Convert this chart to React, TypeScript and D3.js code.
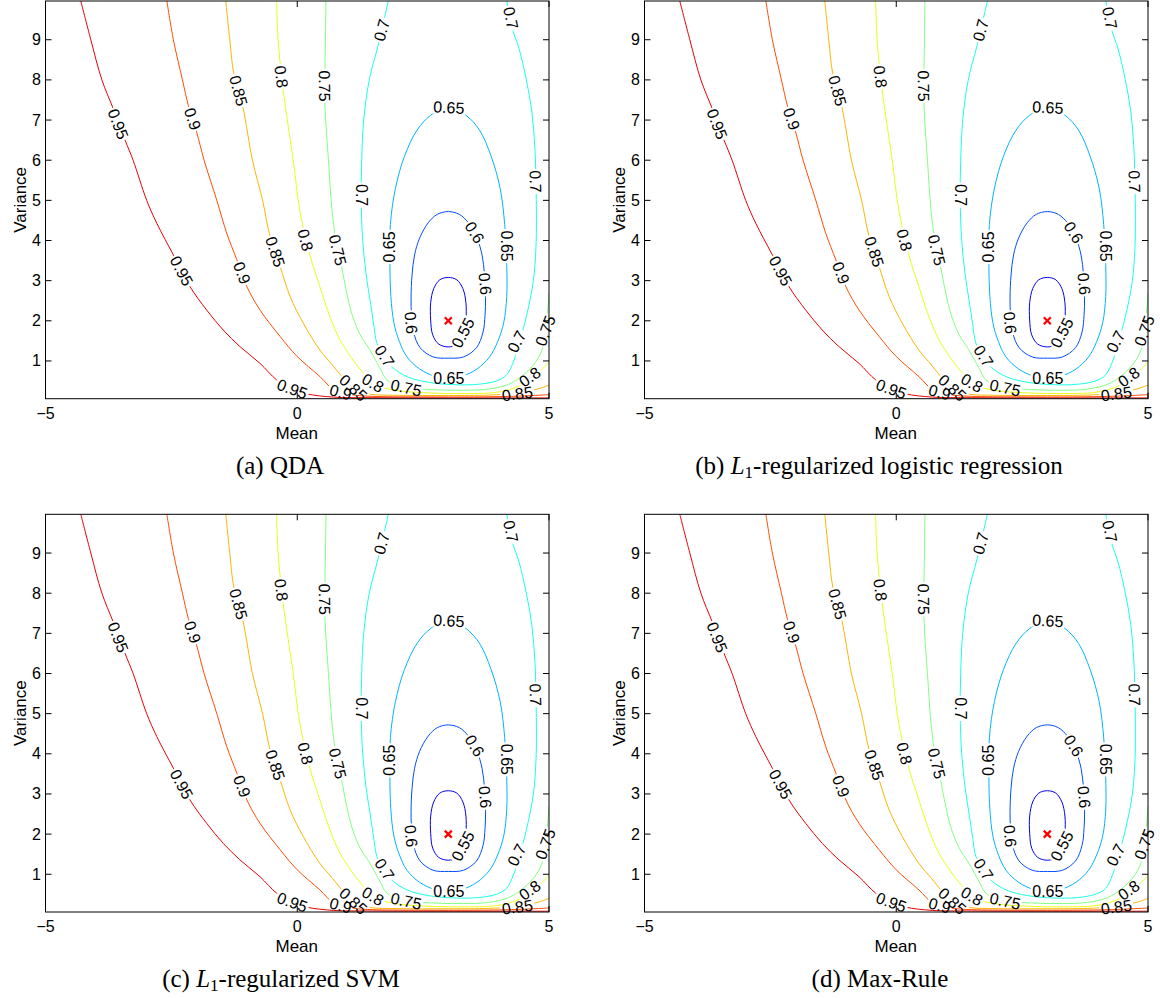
import React from 'react';
import * as d3 from 'd3';

type P = [number, number];

// contour levels (accuracy)
const levels: number[] = [0.55, 0.6, 0.65, 0.7, 0.75, 0.8, 0.85, 0.9, 0.95];

// contour lines: [mean, variance]
const contour055: P[] = [
  [3.0, 3.08], [3.17, 3.02], [3.29, 2.8], [3.35, 2.45], [3.35, 2.02], [3.31, 1.65], [3.19, 1.42],
  [3.0, 1.35], [2.81, 1.42], [2.69, 1.65], [2.65, 2.02], [2.65, 2.45], [2.71, 2.8], [2.83, 3.02],
];
const contour060: P[] = [
  [3.0, 4.72], [3.22, 4.65], [3.4, 4.44], [3.57, 4.06], [3.67, 3.64], [3.72, 3.14], [3.74, 2.57],
  [3.73, 2.14], [3.69, 1.72], [3.56, 1.33], [3.3, 1.1], [3.0, 1.07], [2.7, 1.1], [2.44, 1.33],
  [2.31, 1.72], [2.27, 2.14], [2.26, 2.57], [2.28, 3.14], [2.33, 3.64], [2.43, 4.06], [2.6, 4.44],
  [2.78, 4.65],
];
const contour065: P[] = [
  [3.0, 7.33], [3.35, 7.12], [3.62, 6.75], [3.85, 6.1], [4.03, 5.3], [4.12, 4.4], [4.16, 3.4],
  [4.16, 2.6], [4.1, 1.95], [3.98, 1.48], [3.82, 1.1], [3.57, 0.8], [3.27, 0.62], [3.0, 0.57],
  [2.73, 0.62], [2.43, 0.8], [2.18, 1.1], [2.03, 1.48], [1.92, 1.95], [1.86, 2.6], [1.84, 3.4],
  [1.85, 4.4], [1.95, 5.3], [2.13, 6.1], [2.38, 6.75], [2.65, 7.12],
];
const contour070: P[] = [
  [1.81, 9.97], [1.6, 8.83], [1.43, 8.0], [1.32, 7.0], [1.28, 6.0], [1.27, 5.0], [1.3, 4.0],
  [1.37, 3.14], [1.46, 2.4], [1.52, 1.9], [1.58, 1.45], [1.72, 1.12], [1.9, 0.83], [2.2, 0.6],
  [2.6, 0.47], [3.1, 0.41], [3.6, 0.42], [3.95, 0.5], [4.15, 0.64], [4.3, 1.0], [4.42, 1.5],
  [4.55, 2.1], [4.69, 3.0], [4.74, 3.8], [4.75, 4.5], [4.74, 5.5], [4.72, 6.3], [4.66, 7.2],
  [4.55, 8.0], [4.4, 8.8], [4.29, 9.2], [4.16, 9.97],
];
const contour075: P[] = [
  [0.57, 9.97], [0.56, 9.0], [0.55, 7.42], [0.62, 6.0], [0.7, 4.64], [0.8, 3.76], [0.88, 3.35],
  [0.97, 2.77], [1.09, 2.15], [1.25, 1.65], [1.44, 1.28], [1.64, 0.83], [1.78, 0.53], [2.0, 0.4],
  [2.3, 0.32], [2.8, 0.28], [3.3, 0.27], [3.8, 0.3], [4.2, 0.42], [4.49, 0.65], [4.75, 1.0],
  [4.88, 1.35], [4.93, 1.75], [4.97, 2.2], [5.0, 2.7],
];
const contour080: P[] = [
  [-0.41, 9.97], [-0.38, 9.0], [-0.28, 7.75], [-0.08, 6.0], [0.05, 4.76], [0.25, 3.64], [0.45, 2.85],
  [0.65, 2.1], [0.85, 1.52], [1.0, 1.22], [1.15, 0.95], [1.3, 0.72], [1.45, 0.52], [1.65, 0.36],
  [2.0, 0.26], [2.5, 0.21], [3.0, 0.19], [3.5, 0.19], [3.9, 0.21], [4.2, 0.28], [4.45, 0.4],
  [4.65, 0.58], [4.85, 0.78], [5.0, 0.97],
];
const contour085: P[] = [
  [-1.42, 9.97], [-1.34, 9.0], [-1.26, 8.15], [-1.08, 7.32], [-0.89, 6.0], [-0.69, 5.01], [-0.54, 4.1],
  [-0.34, 3.35], [-0.14, 2.6], [0.12, 1.94], [0.45, 1.27], [0.7, 0.9], [0.88, 0.62], [1.05, 0.4],
  [1.2, 0.25], [1.45, 0.17], [2.0, 0.145], [3.0, 0.14], [3.8, 0.15], [4.2, 0.18], [4.5, 0.23],
  [4.8, 0.31], [5.0, 0.4],
];
const contour090: P[] = [
  [-2.59, 9.97], [-2.46, 9.0], [-2.28, 8.0], [-2.16, 7.35], [-2.0, 6.71], [-1.85, 6.0], [-1.6, 5.01],
  [-1.4, 4.18], [-1.2, 3.52], [-1.0, 2.85], [-0.74, 2.27], [-0.34, 1.61], [0.0, 1.11], [0.45, 0.61],
  [0.72, 0.28], [0.9, 0.2], [1.2, 0.14], [1.6, 0.115], [2.5, 0.105], [3.5, 0.105], [4.3, 0.12],
  [5.0, 0.16],
];
const contour095: P[] = [
  [-4.3, 9.97], [-4.1, 9.0], [-3.88, 8.0], [-3.66, 7.3], [-3.42, 6.5], [-3.26, 6.0], [-2.99, 5.0],
  [-2.79, 4.43], [-2.46, 3.64], [-2.13, 2.85], [-1.8, 2.27], [-1.47, 1.77], [-1.14, 1.36],
  [-0.74, 0.94], [-0.41, 0.53], [-0.1, 0.3], [0.19, 0.18], [0.72, 0.1], [1.5, 0.085], [3.0, 0.08],
  [5.0, 0.08],
];

const contourSeries: P[][] = [
  contour055, contour060, contour065, contour070, contour075, contour080, contour085, contour090, contour095,
];
const closedLevels: number[] = [0.55, 0.6, 0.65];

// inline contour labels: [level, mean, variance, angle]
const contourLabels: [number, number, number, number][] = [
  [0.95, -3.56, 6.9, 69], [0.9, -2.08, 7.03, 72], [0.85, -1.17, 7.73, 75], [0.8, -0.32, 8.08, 82],
  [0.75, 0.54, 7.85, 89], [0.7, 1.68, 9.24, -75], [0.7, 4.24, 9.54, 78], [0.65, 3.01, 7.31, 3],
  [0.7, 4.73, 5.47, 88], [0.7, 1.27, 5.13, 90], [0.75, 0.8, 3.76, 76], [0.8, 0.16, 4.01, 76],
  [0.85, -0.44, 3.72, 72], [0.9, -1.1, 3.19, 69], [0.95, -2.3, 3.24, 62], [0.95, -0.1, 0.3, 20],
  [0.65, 1.84, 3.84, -90], [0.65, 4.15, 3.86, 90], [0.6, 3.52, 4.2, 58], [0.6, 3.73, 2.92, 85],
  [0.6, 2.26, 1.95, 85], [0.55, 3.29, 1.7, -62], [0.7, 1.73, 1.12, 57], [0.65, 3.01, 0.56, 0],
  [0.75, 2.16, 0.33, 12], [0.8, 1.5, 0.45, 30], [0.85, 1.11, 0.33, 42], [0.9, 0.86, 0.22, 15],
  [0.7, 4.36, 1.48, -62], [0.75, 4.93, 1.75, -70], [0.8, 4.62, 0.6, -35], [0.85, 4.37, 0.18, -8],
];

const minimumPoint: P = [3, 2];
const meanTicks: number[] = [-5, 0, 5];
const varianceTicks: number[] = [1, 2, 3, 4, 5, 6, 7, 8, 9];
const meanDomain: P = [-5, 5];
const varianceDomain: P = [0.06, 9.965];

const captionTags: string[] = ['(a)', '(b)', '(c)', '(d)'];
const captionTexts: string[] = ['QDA', '-regularized logistic regression', '-regularized SVM', 'Max-Rule'];
const captionHasL1: boolean[] = [false, true, true, false];

const SANS = 'Liberation Sans, Arial, Helvetica, sans-serif';
const SERIF = 'Liberation Serif, Times New Roman, Times, serif';

function jet(t: number): string {
  const c = (v: number) => Math.max(0, Math.min(1, v));
  const r = c(1.5 - Math.abs(4 * t - 3));
  const g = c(1.5 - Math.abs(4 * t - 2));
  const b = c(1.5 - Math.abs(4 * t - 1));
  return d3.rgb(r * 255, g * 255, b * 255).formatHex();
}
const levelColor = (lv: number) => jet((lv - 0.5) / 0.5);

function labelText(lv: number): string {
  return String(+lv.toFixed(2));
}
function labelWidth(s: string): number {
  let w = 0;
  for (const ch of s) w += ch === '.' ? 0.278 : 0.556;
  return w * 16 + 3;
}

const L = 45.5, R = 549, T = 1, B = 398.7;

function Panel({ idx, ox, oy, cx, capY }: { idx: number; ox: number; oy: number; cx: number; capY: number }) {
  const x = d3.scaleLinear().domain(meanDomain).range([L, R]);
  const y = d3.scaleLinear().domain(varianceDomain).range([B, T]);
  const openLine = d3.line<P>().x((d) => x(d[0])).y((d) => y(d[1])).curve(d3.curveCatmullRom.alpha(0.5));
  const closedLine = d3.line<P>().x((d) => x(d[0])).y((d) => y(d[1])).curve(d3.curveCatmullRomClosed.alpha(0.5));
  const id = `p${idx}`;
  return (
    <g transform={`translate(${ox},${oy})`}>
      <defs>
        <clipPath id={`clip-${id}`}>
          <rect x={L} y={T} width={R - L} height={B - T} />
        </clipPath>
        {levels.map((lv, i) => (
          <mask key={i} id={`mask-${id}-${i}`} maskUnits="userSpaceOnUse" x={-20} y={-20} width={620} height={460}>
            <rect x={-20} y={-20} width={620} height={460} fill="white" />
            {contourLabels
              .filter((l) => l[0] === lv)
              .map((l, j) => {
                const w = labelWidth(labelText(lv));
                return (
                  <rect
                    key={j}
                    transform={`translate(${x(l[1])},${y(l[2])}) rotate(${l[3]})`}
                    x={-w / 2}
                    y={-6.5}
                    width={w}
                    height={13}
                    fill="black"
                  />
                );
              })}
          </mask>
        ))}
      </defs>
      <rect x={L} y={T} width={R - L} height={B - T} fill="white" />
      <g clipPath={`url(#clip-${id})`}>
        {levels.map((lv, i) => (
          <path
            key={i}
            d={(closedLevels.includes(lv) ? closedLine : openLine)(contourSeries[i]) || ''}
            fill="none"
            stroke={levelColor(lv)}
            strokeWidth={1}
            mask={`url(#mask-${id}-${i})`}
          />
        ))}
      </g>
      {contourLabels.map((l, j) => (
        <text
          key={j}
          transform={`translate(${x(l[1])},${y(l[2])}) rotate(${l[3]})`}
          textAnchor="middle"
          dominantBaseline="central"
          fontFamily={SANS}
          fontSize={16}
          fill="#000"
        >
          {labelText(l[0])}
        </text>
      ))}
      <g stroke="#ff0000" strokeWidth={2.2}>
        <line x1={x(minimumPoint[0]) - 3.5} y1={y(minimumPoint[1]) - 3.5} x2={x(minimumPoint[0]) + 3.5} y2={y(minimumPoint[1]) + 3.5} />
        <line x1={x(minimumPoint[0]) - 3.5} y1={y(minimumPoint[1]) + 3.5} x2={x(minimumPoint[0]) + 3.5} y2={y(minimumPoint[1]) - 3.5} />
      </g>
      <rect x={L} y={T} width={R - L} height={B - T} fill="none" stroke="#000" strokeWidth={1} />
      {meanTicks.map((t) => (
        <g key={`xt${t}`}>
          <line x1={x(t)} x2={x(t)} y1={B} y2={B - 6} stroke="#000" />
          <line x1={x(t)} x2={x(t)} y1={T} y2={T + 6} stroke="#000" />
          <text x={x(t)} y={419} textAnchor="middle" fontFamily={SANS} fontSize={16} fill="#000">
            {t < 0 ? `\u2212${Math.abs(t)}` : `${t}`}
          </text>
        </g>
      ))}
      {varianceTicks.map((t) => (
        <g key={`yt${t}`}>
          <line x1={L} x2={L + 6} y1={y(t)} y2={y(t)} stroke="#000" />
          <line x1={R} x2={R - 6} y1={y(t)} y2={y(t)} stroke="#000" />
          <text x={41} y={y(t)} textAnchor="end" dominantBaseline="central" fontFamily={SANS} fontSize={16} fill="#000">
            {t}
          </text>
        </g>
      ))}
      <text x={(L + R) / 2 - 0.5} y={439} textAnchor="middle" fontFamily={SANS} fontSize={17} fill="#000">
        Mean
      </text>
      <text transform={`translate(25.5,${(T + B) / 2}) rotate(-90)`} textAnchor="middle" fontFamily={SANS} fontSize={17} fill="#000">
        Variance
      </text>
      <text x={cx} y={capY} textAnchor="middle" fontFamily={SERIF} fontSize={25} fill="#000">
        <tspan>{captionTags[idx] + ' '}</tspan>
        {captionHasL1[idx] ? (
          <>
            <tspan fontStyle="italic">L</tspan>
            <tspan fontSize={17} dy={4}>1</tspan>
            <tspan dy={-4}>{captionTexts[idx]}</tspan>
          </>
        ) : (
          <tspan>{captionTexts[idx]}</tspan>
        )}
      </text>
    </g>
  );
}

export default function App() {
  const cols = [0, 599];
  const rows = [0, 513.3];
  const capCenters = [280, 281];
  return (
    <svg width={1160} height={998} style={{ position: 'absolute', left: 0, top: 0, background: '#fff' }}>
      {[0, 1, 2, 3].map((i) => (
        <Panel key={i} idx={i} ox={cols[i % 2]} oy={rows[Math.floor(i / 2)]} cx={capCenters[Math.floor(i / 2)]} capY={474} />
      ))}
    </svg>
  );
}
